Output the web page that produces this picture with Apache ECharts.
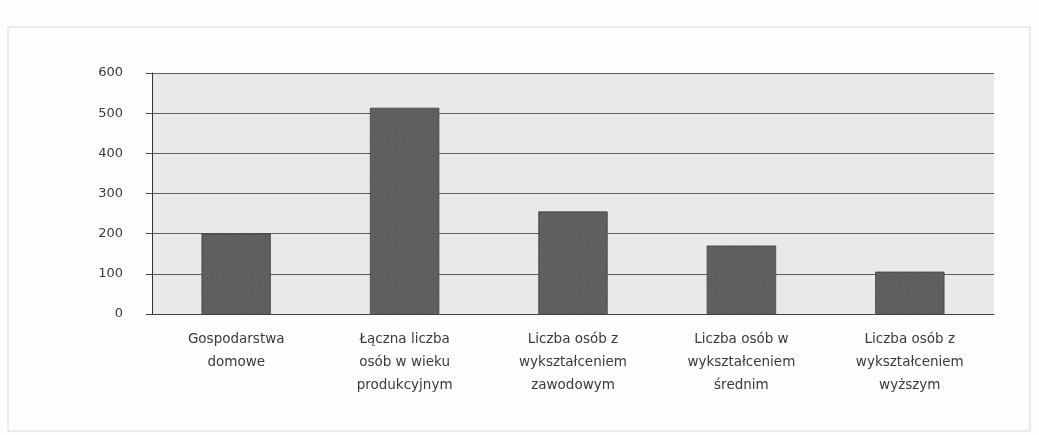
<!DOCTYPE html>
<html><head><meta charset="utf-8">
<script src="https://cdn.jsdelivr.net/npm/echarts@6/dist/echarts.min.js"></script>
<style>html,body{margin:0;padding:0;background:#fdfdfb;}#c{width:1039px;height:435px;}</style>
</head><body><div id="c"></div>
<script>
const categories = [
  'Gospodarstwa\ndomowe',
  'Łączna liczba\nosób w wieku\nprodukcyjnym',
  'Liczba osób z\nwykształceniem\nzawodowym',
  'Liczba osób w\nwykształceniem\nśrednim',
  'Liczba osób z\nwykształceniem\nwyższym'
];
const values = [200, 513, 255, 170, 105];
const yTicks = [0, 100, 200, 300, 400, 500, 600];

const chart = echarts.init(document.getElementById('c'), null, {renderer: 'canvas'});
chart.setOption({
  backgroundColor: '#fdfdfb',
  animation: false,
  graphic: [{
    type: 'rect', shape: {x: 8, y: 27, width: 1022, height: 404},
    style: {fill: 'none', stroke: '#d8d8d4', lineWidth: 1}, silent: true
  }],
  grid: {left: 152, right: 45, top: 73, bottom: 121, show: true,
    backgroundColor: '#e9e9e7', borderWidth: 0},
  xAxis: {
    type: 'category', data: categories,
    axisLine: {show: true, lineStyle: {color: '#444', width: 1}},
    axisTick: {show: false},
    axisLabel: {color: '#3a3a3a', fontFamily: 'DejaVu Sans, sans-serif',
      fontSize: 13.5, lineHeight: 23, margin: 14, interval: 0}
  },
  yAxis: {
    type: 'value', min: 0, max: 600, interval: 100,
    axisLine: {show: true, lineStyle: {color: '#333', width: 1}},
    axisTick: {show: true, length: 6, lineStyle: {color: '#444'}},
    splitLine: {show: true, lineStyle: {color: '#5e5e5e', width: 1}},
    axisLabel: {color: '#3a3a3a', fontFamily: 'DejaVu Sans, sans-serif',
      fontSize: 13, margin: 29,
      formatter: v => yTicks.includes(v) ? String(v) : ''}
  },
  series: [{
    type: 'bar', data: values, barWidth: '41%',
    itemStyle: {color: '#5e5e5e', borderColor: '#444', borderWidth: 0.5,
      decal: {symbol: 'rect', symbolSize: 0.5, color: 'rgba(140,140,140,0.35)',
        dashArrayX: [2, 2], dashArrayY: [2, 2], rotation: 0.785}}
  }]
});
</script></body></html>
